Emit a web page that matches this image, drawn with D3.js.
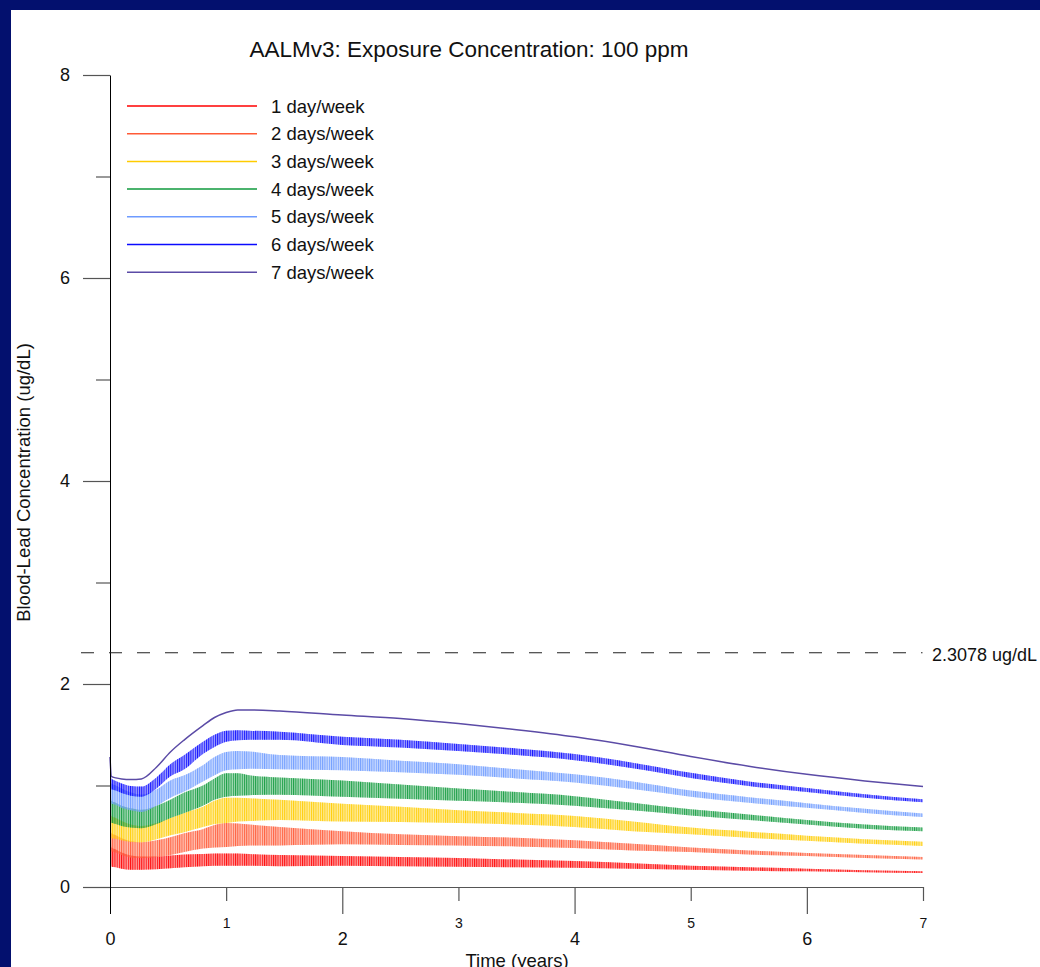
<!DOCTYPE html>
<html>
<head>
<meta charset="utf-8">
<script src="https://cdn.jsdelivr.net/npm/d3@7"></script>
<style>
  html, body { margin: 0; padding: 0; background: #03106e; }
  svg { display: block; }
  text { font-family: "Liberation Sans", Arial, Helvetica, sans-serif; fill: #111; }
</style>
</head>
<body>
<svg id="chart" width="1040" height="967"></svg>
<script>
// Simulation output times (years)
const years = [0, 0.012, 0.05, 0.1, 0.18, 0.27, 0.4, 0.52, 0.64, 0.8, 0.9, 1.0, 1.1, 1.2, 1.46,
               2, 2.5, 3, 3.5, 4, 4.5, 5, 5.5, 6, 6.5, 7];

// Weekly peak (Hi) and trough (Lo) blood-lead levels, ug/dL, by exposure schedule
const d1Hi = [1.12, 0.39, 0.37, 0.34, 0.31, 0.30, 0.30, 0.31, 0.32, 0.325, 0.33, 0.33, 0.33, 0.325, 0.315,
              0.305, 0.295, 0.285, 0.27, 0.255, 0.235, 0.21, 0.195, 0.18, 0.165, 0.155];
const d1Lo = [1.12, 0.20, 0.195, 0.18, 0.17, 0.17, 0.175, 0.185, 0.195, 0.205, 0.21, 0.21, 0.21, 0.21, 0.205,
              0.21, 0.205, 0.20, 0.195, 0.19, 0.18, 0.17, 0.16, 0.155, 0.145, 0.138];
const d2Hi = [1.12, 0.53, 0.51, 0.48, 0.45, 0.44, 0.46, 0.49, 0.53, 0.57, 0.61, 0.63, 0.625, 0.615, 0.59,
              0.55, 0.52, 0.50, 0.485, 0.46, 0.425, 0.39, 0.36, 0.335, 0.315, 0.295];
const d2Lo = [1.12, 0.35, 0.34, 0.315, 0.29, 0.285, 0.295, 0.315, 0.345, 0.38, 0.39, 0.395, 0.405, 0.41, 0.41,
              0.42, 0.415, 0.41, 0.40, 0.385, 0.36, 0.345, 0.32, 0.305, 0.285, 0.27];
const d3Hi = [1.12, 0.70, 0.68, 0.65, 0.615, 0.60, 0.63, 0.68, 0.73, 0.79, 0.85, 0.88, 0.88, 0.875, 0.86,
              0.82, 0.79, 0.755, 0.73, 0.70, 0.645, 0.585, 0.545, 0.505, 0.47, 0.445];
const d3Lo = [1.12, 0.48, 0.475, 0.46, 0.445, 0.44, 0.47, 0.51, 0.54, 0.59, 0.62, 0.63, 0.645, 0.65, 0.66,
              0.645, 0.64, 0.63, 0.615, 0.59, 0.55, 0.52, 0.485, 0.455, 0.425, 0.405];
const d4Hi = [1.12, 0.85, 0.83, 0.80, 0.775, 0.76, 0.80, 0.86, 0.93, 1.00, 1.07, 1.12, 1.12, 1.10, 1.08,
              1.05, 1.01, 0.97, 0.935, 0.895, 0.83, 0.765, 0.715, 0.66, 0.615, 0.585];
const d4Lo = [1.12, 0.63, 0.62, 0.60, 0.585, 0.58, 0.62, 0.68, 0.73, 0.80, 0.86, 0.89, 0.90, 0.905, 0.91,
              0.89, 0.87, 0.85, 0.83, 0.80, 0.755, 0.705, 0.66, 0.615, 0.575, 0.55];
const d5Hi = [1.12, 1.02, 1.00, 0.97, 0.93, 0.91, 0.96, 1.05, 1.10, 1.20, 1.28, 1.33, 1.34, 1.335, 1.30,
              1.28, 1.245, 1.21, 1.16, 1.11, 1.04, 0.95, 0.885, 0.825, 0.77, 0.725];
const d5Lo = [1.12, 0.82, 0.81, 0.78, 0.755, 0.74, 0.80, 0.88, 0.94, 1.04, 1.10, 1.15, 1.16, 1.165, 1.16,
              1.15, 1.13, 1.105, 1.07, 1.03, 0.965, 0.89, 0.83, 0.78, 0.73, 0.69];
const d6Hi = [1.28, 1.07, 1.045, 1.02, 0.995, 0.99, 1.08, 1.21, 1.30, 1.43, 1.50, 1.54, 1.545, 1.54, 1.53,
              1.48, 1.45, 1.41, 1.365, 1.31, 1.225, 1.125, 1.04, 0.975, 0.915, 0.865];
const d6Lo = [1.28, 0.96, 0.95, 0.925, 0.90, 0.89, 0.97, 1.09, 1.16, 1.31, 1.38, 1.43, 1.445, 1.45, 1.45,
              1.40, 1.375, 1.34, 1.30, 1.25, 1.17, 1.075, 0.995, 0.935, 0.88, 0.835];
// Continuous exposure: no weekly cycle
const d7 = [1.28, 1.09, 1.075, 1.065, 1.06, 1.065, 1.18, 1.33, 1.45, 1.59, 1.67, 1.72, 1.745, 1.745, 1.735,
            1.695, 1.66, 1.61, 1.55, 1.48, 1.39, 1.285, 1.19, 1.11, 1.045, 0.99];

const labels = ["1 day/week", "2 days/week", "3 days/week", "4 days/week",
                "5 days/week", "6 days/week", "7 days/week"];
const colors = ["#ff0000", "#ff5a36", "#ffcc00", "#0f9a3c", "#6e9bff", "#0a0aff", "#5b4ba6"];

const yMajor = [0, 2, 4, 6, 8];
const yMinor = [1, 3, 5, 7];
const xMajor = [0, 2, 4, 6];
const xMinor = [1, 3, 5, 7];
const threshold = 2.3078;
const weeksPerYear = 52;

const bands = [
  { hi: d1Hi, lo: d1Lo }, { hi: d2Hi, lo: d2Lo }, { hi: d3Hi, lo: d3Lo },
  { hi: d4Hi, lo: d4Lo }, { hi: d5Hi, lo: d5Lo }, { hi: d6Hi, lo: d6Lo }
].map((b, i) => Object.assign(b, { color: colors[i], label: labels[i] }));

const svg = d3.select("#chart");
svg.append("rect").attr("x", 11).attr("y", 10).attr("width", 1029).attr("height", 957).attr("fill", "#fff");

const x = d3.scaleLinear().domain([0, 7]).range([110, 923]);
const y = d3.scaleLinear().domain([0, 8]).range([887, 75]);

// Weekly stripe texture for the oscillating bands
const defs = svg.append("defs");
const weekPx = (x(1) - x(0)) / weeksPerYear;
bands.forEach((b, i) => {
  const p = defs.append("pattern")
    .attr("id", "wk" + i)
    .attr("patternUnits", "userSpaceOnUse")
    .attr("x", x(0)).attr("y", 0)
    .attr("width", weekPx).attr("height", 967);
  p.append("rect").attr("x", 0).attr("y", 0).attr("width", 1.0).attr("height", 967)
    .attr("fill", b.color).attr("fill-opacity", 0.9);
});

const idx = d3.range(years.length);
const plot = svg.append("g");
bands.forEach((b, i) => {
  const area = d3.area()
    .x(k => x(years[k]))
    .y0(k => y(b.lo[k]))
    .y1(k => y(b.hi[k]))
    .curve(d3.curveMonotoneX);
  plot.append("path").datum(idx).attr("d", area)
    .attr("fill", b.color).attr("fill-opacity", 0.38);
  plot.append("path").datum(idx).attr("d", area)
    .attr("fill", "url(#wk" + i + ")");
});

const line7 = d3.line().x(k => x(years[k])).y(k => y(d7[k])).curve(d3.curveMonotoneX);
plot.append("path").datum(idx).attr("d", line7)
  .attr("fill", "none").attr("stroke", colors[6]).attr("stroke-width", 1.5);

// Axes
const tickColor = "#555";
function styleAxis(g, size) {
  g.selectAll("text").attr("font-size", size).attr("font-family", '"Liberation Sans", Arial, sans-serif').attr("fill", "#111");
  g.selectAll(".tick line").attr("stroke", tickColor).attr("stroke-width", 1.2);
}
const gyMinor = svg.append("g").attr("transform", "translate(110,0)")
  .call(d3.axisLeft(y).tickValues(yMinor).tickSize(14).tickFormat(""));
gyMinor.select(".domain").remove();
styleAxis(gyMinor, 18);

const gxMinor = svg.append("g").attr("transform", "translate(0,887)")
  .call(d3.axisBottom(x).tickValues(xMinor).tickSize(14).tickPadding(17).tickFormat(d3.format("d")));
gxMinor.select(".domain").remove();
styleAxis(gxMinor, 14);

const gx = svg.append("g").attr("transform", "translate(0,887)")
  .call(d3.axisBottom(x).tickValues(xMajor).tickSize(27).tickPadding(18).tickSizeOuter(0).tickFormat(d3.format("d")));
gx.select(".domain").attr("stroke", tickColor).attr("stroke-width", 1.2);
styleAxis(gx, 18);
gx.selectAll(".tick").filter(d => d === 0).select("line").attr("stroke", "#000").attr("stroke-width", 1);

const gy = svg.append("g").attr("transform", "translate(110,0)")
  .call(d3.axisLeft(y).tickValues(yMajor).tickSize(27).tickPadding(13).tickSizeOuter(0).tickFormat(d3.format("d")));
gy.select(".domain").attr("stroke", "#000").attr("stroke-width", 1);
styleAxis(gy, 18);

// Threshold reference line
svg.append("line")
  .attr("x1", 81).attr("x2", 922.5)
  .attr("y1", y(threshold)).attr("y2", y(threshold))
  .attr("stroke", "#222").attr("stroke-width", 1.1).attr("stroke-dasharray", "13,15");
svg.append("text").attr("x", 932).attr("y", y(threshold) + 8)
  .attr("font-size", 18).text(threshold + " ug/dL");

// Legend
const legend = svg.append("g");
labels.forEach((lab, i) => {
  const ly = 106 + i * 27.7;
  legend.append("line").attr("x1", 127).attr("x2", 257).attr("y1", ly).attr("y2", ly)
    .attr("stroke", colors[i]).attr("stroke-width", 1.5);
  legend.append("text").attr("x", 271).attr("y", ly).attr("dy", "0.36em")
    .attr("font-size", 18.5).text(lab);
});

// Titles
svg.append("text").attr("x", 469).attr("y", 56.5).attr("text-anchor", "middle")
  .attr("font-size", 22.5).text("AALMv3: Exposure Concentration: 100 ppm");
svg.append("text").attr("x", 517).attr("y", 967).attr("text-anchor", "middle")
  .attr("font-size", 18.5).text("Time (years)");
svg.append("text").attr("transform", "translate(29.5,482.5) rotate(-90)")
  .attr("text-anchor", "middle").attr("font-size", 18.5)
  .text("Blood-Lead Concentration (ug/dL)");
</script>
</body>
</html>
